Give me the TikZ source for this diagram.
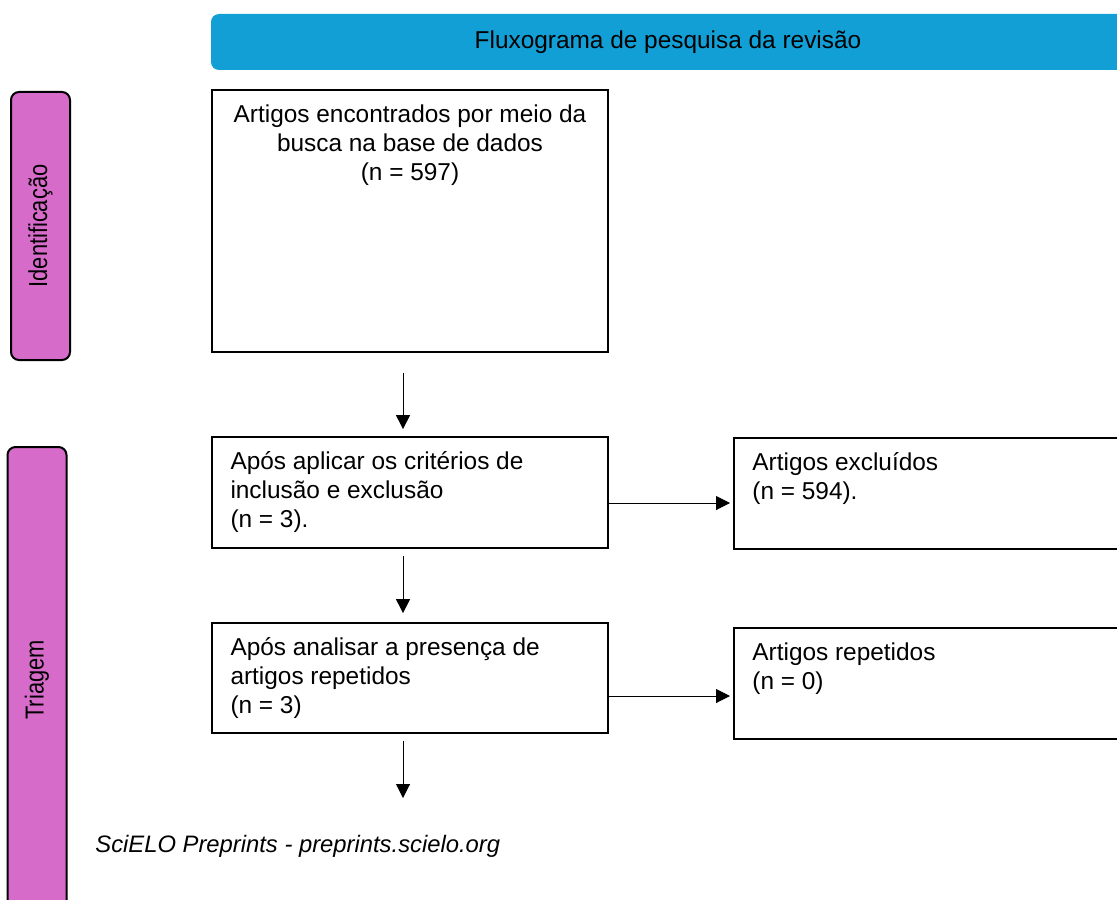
\documentclass[tikz,border=0pt]{standalone}
\usepackage{fontspec}
\setmainfont{Liberation Sans}
\newfontfamily\narrowfont[FakeStretch=0.84]{Liberation Sans}
\usetikzlibrary{arrows.meta,positioning}
\definecolor{headblue}{HTML}{119FD6}
\definecolor{stagepink}{HTML}{D76BCA}

\begin{document}
\begin{tikzpicture}[x=0.5pt, y=-0.5pt]
	\tikzset{
		stage/.style={draw=black, line width=1pt, fill=stagepink, rounded corners=4pt, minimum width=29.5pt, inner sep=0pt},
		stagetxt/.style={rotate=90, font=\narrowfont\fontsize{13}{15}\selectfont},
		box/.style={draw=black, line width=0.9pt, minimum width=198pt, inner sep=0pt},
		txt/.style={anchor=north west, align=left, inner sep=0pt, font=\fontsize{12.2}{14.5}\selectfont},
		arr/.style={-{Triangle[length=7pt, width=7pt]}, line width=0.5pt}
	};
	\clip (0,0) rectangle (1117,899);

	% header
	\node[fill=headblue, rounded corners=4pt, minimum width=457pt, minimum height=28pt,
		font=\fontsize{12.2}{14}\selectfont] (head) at (668,42) {Fluxograma de pesquisa da revisão};

	% stages
	\node[stage, minimum height=134pt] (ident) at (40.5,226) {};
	\node[stagetxt] (identlbl) at (ident) {Identificação};
	\node[stage, minimum height=233pt] (triag) at (37,680) {};
	\node[stagetxt] (triaglbl) at (triag) {Triagem};

	% boxes
	\node[box, minimum height=131pt] (found) at (410,221) {};
	\node[txt, anchor=north, align=center] (foundtxt) at ([yshift=-7.5pt]found.north)
		{Artigos encontrados por meio da\\busca na base de dados\\(n = 597)};

	\node[box, minimum height=55.5pt] (incl) at (410,492.5) {};
	\node[txt] (incltxt) at ([xshift=9.5pt, yshift=-7.5pt]incl.north west)
		{Após aplicar os critérios de\\inclusão e exclusão\\(n = 3).};

	\node[box, minimum height=55.5pt, anchor=north west] (excl) at (733,437) {};
	\node[txt] (excltxt) at ([xshift=9.5pt, yshift=-7.5pt]excl.north west)
		{Artigos excluídos\\(n = 594).};

	\node[box, minimum height=55pt] (rep) at (410,678) {};
	\node[txt] (reptxt) at ([xshift=9.5pt, yshift=-7.5pt]rep.north west)
		{Após analisar a presença de\\artigos repetidos\\(n = 3)};

	\node[box, minimum height=55.5pt, anchor=north west] (dup) at (733,627) {};
	\node[txt] (duptxt) at ([xshift=9.5pt, yshift=-7.5pt]dup.north west)
		{Artigos repetidos\\(n = 0)};

	\coordinate (next) at (403,798);

	% arrows
	\draw[arr, shorten <=10pt, shorten >=3.5pt] ([xshift=-3.5pt]found.south) -- ([xshift=-3.5pt]incl.north);
	\draw[arr, shorten <=3.5pt, shorten >=4.5pt] ([xshift=-3.5pt]incl.south) -- ([xshift=-3.5pt]rep.north);
	\draw[arr, shorten <=3.5pt] ([xshift=-3.5pt]rep.south) -- (next);
	\draw[arr, shorten >=1.5pt] ([yshift=-5.25pt]incl.east) -- ([yshift=-5.25pt]incl.east -| excl.west);
	\draw[arr, shorten >=1.5pt] ([yshift=-9pt]rep.east) -- ([yshift=-9pt]rep.east -| dup.west);

	% footer
	\node[anchor=west, inner sep=0pt, font=\itshape\fontsize{11.9}{13}\selectfont] (credit) at (95,846)
		{SciELO Preprints - preprints.scielo.org};
\end{tikzpicture}
\end{document}
